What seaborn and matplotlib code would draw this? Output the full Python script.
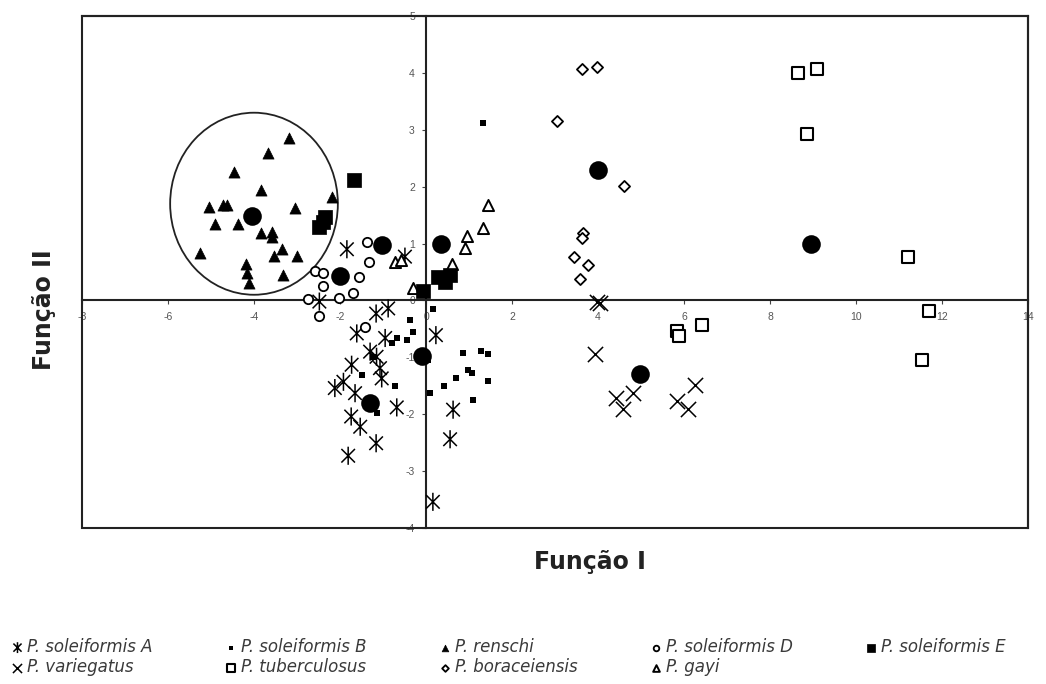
import matplotlib
matplotlib.use("Agg")
import matplotlib.pyplot as plt
import seaborn as sns
import pandas as pd
from matplotlib.patches import Ellipse, Rectangle
from matplotlib.path import Path

# ---- data (Função I, Função II) ----
sol_a_x = [-2.48, -1.16, -0.88, -1.61, -0.95, 0.23, -1.30, -1.15, -1.73, -1.07, -1.92, -2.12,
           -1.65, -1.74, -1.53, -1.16, -1.81, -0.68, 0.63, 0.56, 0.16, -1.84, -0.49, -1.03]
sol_a_y = [-0.02, -0.23, -0.14, -0.58, -0.66, -0.61, -0.90, -0.99, -1.13, -1.19, -1.43, -1.54,
           -1.63, -2.04, -2.22, -2.51, -2.73, -1.88, -1.92, -2.44, -3.54, 0.90, 0.77, -1.37]

sol_b_x = [0.16, -0.37, -0.31, -0.45, -0.68, -0.80, 0.87, 1.29, 1.45, 0.98, 1.06, 0.69,
           0.42, 1.45, 1.09, 0.09, -0.72, -1.50, -1.23, -1.15, 1.33, -0.05, 0.05]
sol_b_y = [-0.15, -0.34, -0.55, -0.69, -0.66, -0.75, -0.92, -0.88, -0.94, -1.22, -1.27, -1.36,
           -1.50, -1.41, -1.75, -1.62, -1.50, -1.31, -1.00, -1.98, 3.12, -0.95, -1.05]

renschi_x = [-3.18, -3.67, -4.47, -3.84, -5.04, -4.73, -4.62, -3.05, -2.19, -4.91, -4.38,
             -3.84, -3.59, -3.57, -3.34, -3.53, -3.01, -5.26, -4.19, -4.16, -4.11, -3.32]
renschi_y = [2.85, 2.59, 2.26, 1.95, 1.65, 1.68, 1.68, 1.62, 1.81, 1.34, 1.34,
             1.18, 1.21, 1.12, 0.91, 0.79, 0.79, 0.83, 0.64, 0.48, 0.31, 0.45]

sol_d_x = [-1.37, -1.32, -2.58, -2.39, -2.39, -1.55, -1.69, -2.02, -2.74, -2.50, -1.42]
sol_d_y = [1.02, 0.68, 0.52, 0.48, 0.25, 0.42, 0.13, 0.04, 0.02, -0.28, -0.46]

sol_e_x = [-1.67, -2.35, -2.48, -2.40, 0.28, 0.55, 0.44, -0.06]
sol_e_y = [2.12, 1.47, 1.29, 1.38, 0.42, 0.45, 0.33, 0.17]

varieg_x = [3.97, 4.05, 3.93, 4.42, 4.57, 4.81, 5.83, 6.10, 6.26]
varieg_y = [-0.02, -0.05, -0.94, -1.72, -1.90, -1.62, -1.76, -1.90, -1.49]

tuber_x = [8.64, 9.09, 8.87, 11.22, 11.70, 11.53, 5.83, 5.89, 6.43]
tuber_y = [4.00, 4.06, 2.92, 0.77, -0.18, -1.05, -0.54, -0.62, -0.43]

borac_x = [3.62, 3.98, 3.04, 4.60, 3.66, 3.62, 3.44, 3.76, 3.58]
borac_y = [4.06, 4.10, 3.16, 2.01, 1.18, 1.09, 0.77, 0.62, 0.37]

gayi_x = [1.45, 1.32, 0.96, 0.91, 0.60, -0.72, -0.57, -0.30]
gayi_y = [1.68, 1.27, 1.13, 0.93, 0.64, 0.68, 0.71, 0.21]

# group centroids (large black dots, not in legend)
cent_x = [-1.30, -0.10, -4.05, -2.00, -1.02, 4.98, 8.95, 4.00, 0.35]
cent_y = [-1.80, -0.98, 1.49, 0.43, 0.98, -1.29, 0.99, 2.29, 0.99]

# ---- styling ----
sns.set_theme(style="white")
plt.rcParams["font.family"] = ["Liberation Sans", "DejaVu Sans"]
plt.rcParams["axes.unicode_minus"] = False

asterisk = Path([(0, -1), (0, 1), (-0.75, -0.75), (0.75, 0.75), (-0.75, 0.75), (0.75, -0.75)],
                [Path.MOVETO, Path.LINETO] * 3)

groups = [
    ("P. soleiformis A", sol_a_x, sol_a_y, dict(marker=asterisk, s=170, facecolor="none", edgecolor="black", linewidth=1.1)),
    ("P. variegatus", varieg_x, varieg_y, dict(marker="x", s=120, color="black", linewidth=1.1)),
    ("P. soleiformis B", sol_b_x, sol_b_y, dict(marker="s", s=25, color="black", edgecolor="black", linewidth=0)),
    ("P. tuberculosus", tuber_x, tuber_y, dict(marker="s", s=85, facecolor="white", edgecolor="black", linewidth=1.5)),
    ("P. renschi", renschi_x, renschi_y, dict(marker="^", s=64, color="black", edgecolor="black", linewidth=0.5)),
    ("P. boraceiensis", borac_x, borac_y, dict(marker="D", s=32, facecolor="white", edgecolor="black", linewidth=1.3)),
    ("P. soleiformis D", sol_d_x, sol_d_y, dict(marker="o", s=45, facecolor="white", edgecolor="black", linewidth=1.3)),
    ("P. gayi", gayi_x, gayi_y, dict(marker="^", s=64, facecolor="white", edgecolor="black", linewidth=1.4)),
    ("P. soleiformis E", sol_e_x, sol_e_y, dict(marker="s", s=88, color="black", edgecolor="black", linewidth=0.5)),
]

fig = plt.figure(figsize=(10.46, 6.84), dpi=100)
ax = fig.add_axes([82 / 1046, 1 - 528 / 684, (1028 - 82) / 1046, (528 - 16) / 684])

for name, xs, ys, kw in groups:
    df = pd.DataFrame({"x": xs, "y": ys})
    sns.scatterplot(data=df, x="x", y="y", ax=ax, label=name, legend=False, zorder=3, **kw)

sns.scatterplot(x=cent_x, y=cent_y, ax=ax, marker="o", s=180, color="black",
                edgecolor="black", linewidth=0, legend=False, zorder=4)

# circle around P. renschi
ax.add_patch(Ellipse((-4.0, 1.70), width=3.9, height=3.2, fill=False,
                     edgecolor="#222222", linewidth=1.3, zorder=2))

ax.set_xlim(-8, 14)
ax.set_ylim(-4, 5)
ax.set_xticks(range(-8, 15, 2))
ax.set_yticks(range(-4, 6))
ax.set_xlabel("")
ax.set_ylabel("")

for side in ["left", "bottom"]:
    ax.spines[side].set_position(("data", 0))
for side in ax.spines:
    ax.spines[side].set_linewidth(1.5)
    ax.spines[side].set_color("#222222")
ax.add_patch(Rectangle((0, 0), 1, 1, transform=ax.transAxes, fill=False,
                       edgecolor="#222222", linewidth=1.5, clip_on=False, zorder=5))

ax.tick_params(axis="both", direction="out", length=3, width=0.8, color="#444444",
               labelsize=7.5, labelcolor="#555555", pad=5, bottom=True, left=True)

label_font = dict(family="DejaVu Sans", fontsize=17, fontweight="bold", color="#222222")
fig.text(590 / 1046, 1 - 562 / 684, "Função I", ha="center", va="center", **label_font)
fig.text(44 / 1046, 1 - 310 / 684, "Função II", ha="center", va="center",
         rotation=90, **label_font)

handles, labels = ax.get_legend_handles_labels()
leg = fig.legend(handles, labels, ncol=5, loc="upper left",
                 bbox_to_anchor=(-0.004, 1 - 623 / 684), frameon=False,
                 markerscale=0.6, handletextpad=0.2, columnspacing=4.3,
                 labelspacing=0.15, handlelength=0.8,
                 prop={"family": "DejaVu Sans", "style": "italic", "size": 12})
for t in leg.get_texts():
    t.set_color("#3a3a3a")

fig.savefig("out.png", dpi=100, facecolor="white")
